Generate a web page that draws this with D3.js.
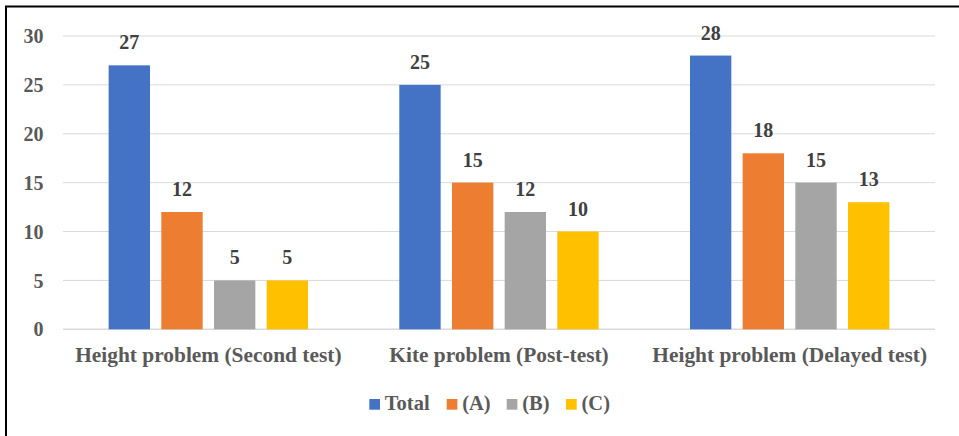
<!DOCTYPE html>
<html>
<head>
<meta charset="utf-8">
<script src="https://cdn.jsdelivr.net/npm/d3@7"></script>
<style>
  html, body { margin: 0; padding: 0; background: #fff; }
  svg { display: block; }
  text { font-family: "Liberation Serif", "Times New Roman", serif; font-weight: bold; }
</style>
</head>
<body>
<svg id="chart" width="959" height="436"></svg>
<script>
// Problem sets on the x axis
const categories = ["Height problem (Second test)", "Kite problem (Post-test)", "Height problem (Delayed test)"];
// Series names and their values per problem set
const seriesNames = ["Total", "(A)", "(B)", "(C)"];
const totalValues = [27, 25, 28];
const aValues = [12, 15, 18];
const bValues = [5, 12, 15];
const cValues = [5, 10, 13];
const seriesColors = ["#4472C4", "#ED7D31", "#A5A5A5", "#FFC000"];
const yTicks = [0, 5, 10, 15, 20, 25, 30];

const seriesValues = [totalValues, aValues, bValues, cValues];
const rows = categories.map((c, i) => ({
  category: c,
  values: seriesNames.map((s, j) => ({ series: s, value: seriesValues[j][i], color: seriesColors[j] }))
}));

const svg = d3.select("#chart");

// Outer frame (left and top edges visible)
svg.append("rect")
  .attr("x", 6).attr("y", 6.5)
  .attr("width", 1200).attr("height", 1000)
  .attr("fill", "none").attr("stroke", "#000").attr("stroke-width", 2);

const plot = { left: 63, right: 935, top: 36, bottom: 329.3 };

const x0 = d3.scaleBand().domain(categories).range([plot.left, plot.right]).paddingInner(0.314).paddingOuter(0.157);
const x1 = d3.scaleBand().domain(seriesNames).range([0, x0.bandwidth()]).paddingInner(0.215).paddingOuter(0);
const y = d3.scaleLinear().domain([0, 30]).range([plot.bottom, plot.top]);

// Horizontal gridlines
svg.append("g")
  .selectAll("line")
  .data(yTicks)
  .join("line")
  .attr("x1", plot.left).attr("x2", plot.right)
  .attr("y1", d => y(d)).attr("y2", d => y(d))
  .attr("stroke", "#d9d9d9")
  .attr("stroke-width", d => d === 0 ? 1.5 : 1);

// Y axis labels
const yAxis = d3.axisLeft(y).tickValues(yTicks).tickSize(0).tickPadding(0);
const yg = svg.append("g").attr("transform", `translate(${43.5},0)`).call(yAxis);
yg.select(".domain").remove();
yg.selectAll("text")
  .attr("fill", "#595959")
  .style("font-size", "20px")
  .attr("dy", "0.33em");

// Bars
const groups = svg.append("g")
  .selectAll("g")
  .data(rows)
  .join("g")
  .attr("transform", d => `translate(${x0(d.category)},0)`);

groups.selectAll("rect")
  .data(d => d.values)
  .join("rect")
  .attr("x", d => x1(d.series))
  .attr("width", x1.bandwidth())
  .attr("y", d => y(d.value))
  .attr("height", d => y(0) - y(d.value))
  .attr("fill", d => d.color);

// Value labels
groups.selectAll("text")
  .data(d => d.values)
  .join("text")
  .attr("x", d => x1(d.series) + x1.bandwidth() / 2)
  .attr("y", d => y(d.value) - 16)
  .attr("text-anchor", "middle")
  .attr("fill", "#404040")
  .style("font-size", "20px")
  .text(d => d.value);

// Category labels
const xAxis = d3.axisBottom(x0).tickSize(0).tickPadding(0);
const xg = svg.append("g").attr("transform", `translate(0,${plot.bottom})`).call(xAxis);
xg.select(".domain").remove();
xg.selectAll("text")
  .attr("fill", "#595959")
  .attr("dy", null)
  .attr("y", 32.5)
  .style("font-size", "21.4px");

// Legend
const legendX = [369.3, 446.7, 506.7, 566];
const legend = svg.append("g")
  .selectAll("g")
  .data(seriesNames)
  .join("g")
  .attr("transform", (d, i) => `translate(${legendX[i]},399)`);
legend.append("rect")
  .attr("width", 10.7).attr("height", 10.7)
  .attr("fill", (d, i) => seriesColors[i]);
legend.append("text")
  .attr("x", 15.5).attr("y", 10.5)
  .attr("fill", "#595959")
  .style("font-size", "20.5px")
  .text(d => d);
</script>
</body>
</html>
